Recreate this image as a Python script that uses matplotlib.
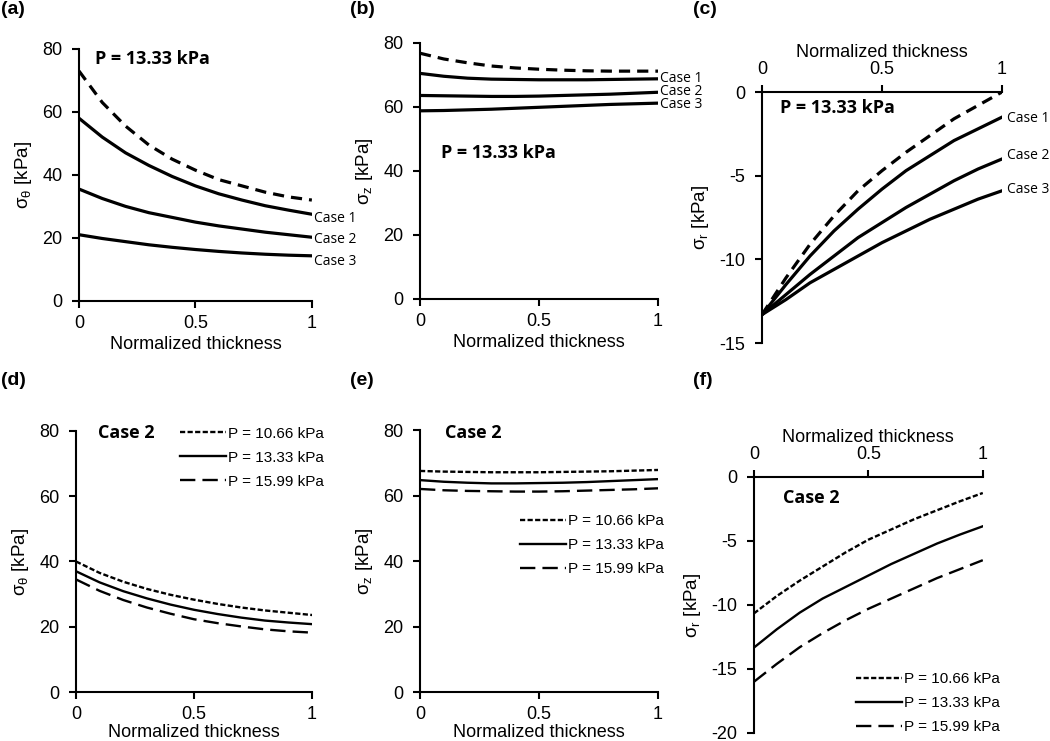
import matplotlib
matplotlib.use("Agg")
import matplotlib.pyplot as plt

plt.rcParams['font.family'] = ['Liberation Sans', 'DejaVu Sans']
plt.rcParams['mathtext.fontset'] = 'custom'
plt.rcParams['mathtext.rm'] = 'Liberation Sans'
plt.rcParams['mathtext.it'] = 'Liberation Sans'
plt.rcParams['axes.unicode_minus'] = False

# normalized thickness
x = [0, 0.1, 0.2, 0.3, 0.4, 0.5, 0.6, 0.7, 0.8, 0.9, 1.0]

# (a) circumferential stress, P = 13.33 kPa
a_dash = [73, 63, 55.5, 49.5, 45, 41.5, 38.5, 36.5, 34.5, 33, 32]
a_case1 = [58, 52, 47, 43, 39.5, 36.5, 34, 32, 30.2, 28.8, 27.5]
a_case2 = [35.5, 32.5, 30, 28, 26.5, 25, 23.8, 22.8, 21.8, 21, 20.2]
a_case3 = [21, 19.8, 18.8, 17.8, 17, 16.3, 15.7, 15.2, 14.8, 14.5, 14.3]

# (b) axial stress
b_dash = [76.8, 75.0, 73.8, 72.8, 72.2, 71.8, 71.5, 71.3, 71.2, 71.2, 71.2]
b_case1 = [70.5, 69.6, 69.0, 68.7, 68.6, 68.5, 68.5, 68.5, 68.6, 68.7, 68.8]
b_case2 = [63.6, 63.5, 63.4, 63.3, 63.3, 63.4, 63.6, 63.8, 64.0, 64.3, 64.6]
b_case3 = [58.8, 58.9, 59.1, 59.3, 59.6, 59.9, 60.2, 60.5, 60.8, 61.0, 61.2]

# (c) radial stress
c_dash = [-13.3, -11.1, -9.1, -7.4, -5.9, -4.7, -3.6, -2.6, -1.6, -0.8, 0.0]
c_case1 = [-13.3, -11.5, -9.8, -8.3, -7.0, -5.8, -4.7, -3.8, -2.9, -2.2, -1.5]
c_case2 = [-13.3, -12.1, -10.9, -9.8, -8.7, -7.8, -6.9, -6.1, -5.3, -4.6, -4.0]
c_case3 = [-13.3, -12.4, -11.4, -10.6, -9.8, -9.0, -8.3, -7.6, -7.0, -6.4, -5.9]

# (d)-(f) Case 2 at three pressures
pressures = ['P = 10.66 kPa', 'P = 13.33 kPa', 'P = 15.99 kPa']
d_vals = [[40, 36.5, 33.8, 31.6, 29.8, 28.3, 27, 25.9, 25, 24.3, 23.6],
          [37, 33.6, 30.9, 28.7, 26.8, 25.2, 23.9, 22.8, 21.9, 21.3, 20.8],
          [34.5, 31, 28.2, 25.9, 24, 22.3, 21.1, 20.1, 19.2, 18.6, 18.2]]
e_vals = [[67.5, 67.3, 67.2, 67.1, 67.1, 67.1, 67.2, 67.3, 67.4, 67.6, 67.8],
          [64.7, 64.2, 63.9, 63.7, 63.7, 63.8, 63.9, 64.1, 64.4, 64.7, 65.0],
          [62.0, 61.6, 61.4, 61.3, 61.2, 61.2, 61.3, 61.5, 61.7, 61.9, 62.2]]
f_vals = [[-10.66, -9.3, -8.1, -7.0, -5.9, -4.9, -4.1, -3.3, -2.6, -1.9, -1.25],
          [-13.33, -11.9, -10.6, -9.5, -8.6, -7.7, -6.8, -6.0, -5.2, -4.5, -3.85],
          [-16.0, -14.6, -13.3, -12.2, -11.2, -10.3, -9.5, -8.7, -7.9, -7.2, -6.5]]

case_labels = ['Case 1', 'Case 2', 'Case 3']

FS = 13
dash_top = (0, (3.5, 2.2))
styles_bot = [(0, (2.2, 1.0)), '-', (0, (6.5, 3.0))]

fig = plt.figure(figsize=(10.5, 7.41), dpi=100)


def style_axes(ax, top=False, xlabelpad=3):
    for s in ['right', 'top', 'bottom', 'left']:
        ax.spines[s].set_visible(False)
    ax.spines['left'].set_visible(True)
    ax.spines['left'].set_linewidth(1.5)
    side = 'top' if top else 'bottom'
    ax.spines[side].set_visible(True)
    ax.spines[side].set_linewidth(1.5)
    if top:
        ax.xaxis.tick_top()
        ax.xaxis.set_label_position('top')
    ax.tick_params(direction='out', length=5, width=1.5, labelsize=FS)
    ax.tick_params(axis='y', pad=7)
    ax.tick_params(axis='x', pad=5)
    ax.set_xlim(0, 1)
    ax.set_xticks([0, 0.5, 1])
    ax.set_xticklabels(['0', '0.5', '1'])
    ax.set_xlabel('Normalized thickness', fontsize=FS, labelpad=xlabelpad)


def case_text(ax, xx, yy, s, size):
    ax.text(xx, yy, s, fontsize=size, fontweight='bold', family='Open Sans', va='center')


# (a)
ax = fig.add_axes([0.0752, 0.594, 0.2218, 0.340])
ax.plot(x, a_dash, color='black', lw=2.3, ls=dash_top)
for v in [a_case1, a_case2, a_case3]:
    ax.plot(x, v, color='black', lw=2.3)
ax.set_ylim(0, 80)
ax.set_yticks([0, 20, 40, 60, 80])
style_axes(ax)
ax.set_ylabel(r'σ$_\theta$ [kPa]', fontsize=13.5, labelpad=6)
case_text(ax, 0.07, 76.8, 'P = 13.33 kPa', 13)
for lab, yy in zip(case_labels, [26, 19.4, 12.6]):
    ax.text(1.01, yy, lab, fontsize=10, family='Open Sans', va='center', clip_on=False)

# (b)
ax = fig.add_axes([0.400, 0.5965, 0.2267, 0.3455])
ax.plot(x, b_dash, color='black', lw=2.3, ls=dash_top)
for v in [b_case1, b_case2, b_case3]:
    ax.plot(x, v, color='black', lw=2.3)
ax.set_ylim(0, 80)
ax.set_yticks([0, 20, 40, 60, 80])
style_axes(ax)
ax.set_ylabel(r'σ$_z$ [kPa]', fontsize=13.5, labelpad=6)
case_text(ax, 0.09, 45.6, 'P = 13.33 kPa', 13)
for lab, yy in zip(case_labels, [68.9, 64.7, 60.8]):
    ax.text(1.01, yy, lab, fontsize=10, family='Open Sans', va='center', clip_on=False)

# (c)
ax = fig.add_axes([0.7257, 0.537, 0.2286, 0.3388])
ax.plot(x, c_dash, color='black', lw=2.3, ls=dash_top)
for v in [c_case1, c_case2, c_case3]:
    ax.plot(x, v, color='black', lw=2.3)
ax.set_ylim(-15, 0)
ax.set_yticks([-15, -10, -5, 0])
style_axes(ax, top=True)
ax.set_ylabel(r'σ$_r$ [kPa]', fontsize=13.5, labelpad=6)
case_text(ax, 0.075, -0.96, 'P = 13.33 kPa', 13)
for lab, yy in zip(case_labels, [-1.6, -3.8, -5.8]):
    ax.text(1.02, yy, lab, fontsize=10, family='Open Sans', va='center', clip_on=False)


def bottom_panel(rect, vals, ylim, yticks, ylabel, top, case_xy, leg_anchor):
    ax = fig.add_axes(rect)
    for v, ls, lab in zip(vals, styles_bot, pressures):
        ax.plot(x, v, color='black', lw=1.7, ls=ls, label=lab)
    ax.set_ylim(*ylim)
    ax.set_yticks(yticks)
    style_axes(ax, top=top, xlabelpad=3 if top else 1)
    ax.set_ylabel(ylabel, fontsize=13.5, labelpad=6)
    case_text(ax, case_xy[0], case_xy[1], 'Case 2', 13)
    ax.legend(frameon=False, fontsize=11, handlelength=3.0, handletextpad=0.1,
              labelspacing=0.65, borderaxespad=0, borderpad=0,
              loc='upper right', bbox_to_anchor=leg_anchor,
              bbox_transform=fig.transFigure)
    return ax


bottom_panel([0.0724, 0.0661, 0.2248, 0.3523], d_vals, (0, 80), [0, 20, 40, 60, 80],
             r'σ$_\theta$ [kPa]', False, (0.093, 79.4), (0.308, 0.424))
bottom_panel([0.400, 0.0661, 0.2267, 0.3536], e_vals, (0, 80), [0, 20, 40, 60, 80],
             r'σ$_z$ [kPa]', False, (0.105, 79), (0.632, 0.306))
bottom_panel([0.718, 0.0108, 0.218, 0.3455], f_vals, (-20, 0), [-20, -15, -10, -5, 0],
             r'σ$_r$ [kPa]', True, (0.127, -1.64), (0.952, 0.093))

for lab, px, py in [('(a)', 0.001, 0.998), ('(b)', 0.333, 0.998), ('(c)', 0.660, 0.998),
                    ('(d)', 0.001, 0.498), ('(e)', 0.333, 0.498), ('(f)', 0.660, 0.498)]:
    fig.text(px, py, lab, fontsize=14, fontweight='bold', va='top', ha='left')

fig.savefig('out.png', dpi=100)
